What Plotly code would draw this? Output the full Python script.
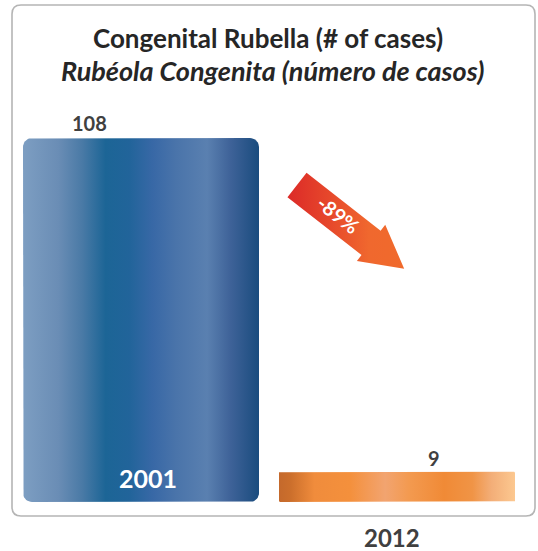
import numpy as np
import plotly.graph_objects as go

# ---- data -------------------------------------------------------------
years = ["2001", "2012"]
cases = [108, 9]
change_label = "-89%"
title_en = "Congenital Rubella (# of cases)"
title_es = "Rubéola Congenita (número de casos)"

# ---- styling ----------------------------------------------------------
W, H = 538, 551
FONT = "Lato"
BAR_W = 236 / 256                      # bar width in category units
X_RANGE = [-0.5508, 1.5508]
Y_RANGE = [-14.54, 148.96]
PX_X = W / (X_RANGE[1] - X_RANGE[0])   # pixels per x unit
PX_Y = H / (Y_RANGE[1] - Y_RANGE[0])   # pixels per y unit

blue_scale = [
    [0.00, "#7d9ec2"], [0.15, "#6a8db5"], [0.25, "#4a7aa6"], [0.35, "#1c6596"],
    [0.45, "#21649a"], [0.55, "#3868a6"], [0.65, "#4a74aa"], [0.78, "#5a80b0"],
    [0.88, "#3e6298"], [1.00, "#1a4c7e"],
]
orange_scale = [
    [0.00, "#c4692c"], [0.05, "#cc6f2c"], [0.15, "#f08c3c"], [0.30, "#f4903c"],
    [0.45, "#f2a470"], [0.55, "#f39a50"], [0.70, "#f08a36"], [0.82, "#f09446"],
    [0.90, "#f3ae78"], [1.00, "#fcc890"],
]
arrow_scale = [[0.0, "#dc2a28"], [0.35, "#e6472b"], [0.7, "#f0682e"], [1.0, "#f06a2c"]]
bar_styles = [(blue_scale, 9), (orange_scale, 1)]


def rounded_rect(x0, x1, y0, y1, r_px):
    """Closed outline of a rectangle (data units) with corners rounded by r_px pixels."""
    rx, ry = r_px / PX_X, r_px / PX_Y
    corners = [(x1 - rx, y1 - ry, 0, 90), (x0 + rx, y1 - ry, 90, 180),
               (x0 + rx, y0 + ry, 180, 270), (x1 - rx, y0 + ry, 270, 360)]
    xs, ys = [], []
    for cx, cy, a0, a1 in corners:
        t = np.radians(np.linspace(a0, a1, 10))
        xs += list(cx + rx * np.cos(t))
        ys += list(cy + ry * np.sin(t))
    xs.append(xs[0])
    ys.append(ys[0])
    return xs, ys


fig = go.Figure()

# bars with horizontal colour gradients
for i, (year, val) in enumerate(zip(years, cases)):
    scale, radius = bar_styles[i]
    xs, ys = rounded_rect(i - BAR_W / 2, i + BAR_W / 2, 0, val, radius)
    fig.add_trace(go.Scatter(
        x=xs, y=ys, mode="lines", fill="toself", line=dict(width=0),
        fillgradient=dict(type="horizontal", colorscale=scale),
        hoverinfo="skip", showlegend=False, name=year,
    ))

# decorative downward arrow (pixel space on overlay axes)
tail = np.array([297.0, 185.0])
ang = np.radians(38)
length, shaft_half, head_half, head_len = 136, 15.5, 23, 42
u = np.array([np.cos(ang), np.sin(ang)])
p = np.array([-np.sin(ang), np.cos(ang)])
neck = tail + u * (length - head_len)
tip = tail + u * length
poly = [tail + p * shaft_half, neck + p * shaft_half, neck + p * head_half, tip,
        neck - p * head_half, neck - p * shaft_half, tail - p * shaft_half,
        tail + p * shaft_half]
fig.add_trace(go.Scatter(
    x=[q[0] for q in poly], y=[q[1] for q in poly], xaxis="x2", yaxis="y2",
    mode="lines", fill="toself", line=dict(width=0),
    fillgradient=dict(type="horizontal", colorscale=arrow_scale),
    hoverinfo="skip", showlegend=False,
))

annotations = [
    dict(text=f"<b>{title_en}</b>", x=268, y=38, xref="x2", yref="y2",
         showarrow=False, font=dict(family=FONT, size=26, color="#262626")),
    dict(text=f"<b><i>{title_es}</i></b>", x=272, y=70, xref="x2", yref="y2",
         showarrow=False, font=dict(family=FONT, size=27, color="#262626")),
    # value labels
    dict(text=f"<b>{cases[0]}</b>", x=0, y=cases[0], xref="x", yref="y",
         xshift=-52, yshift=15, showarrow=False,
         font=dict(family=FONT, size=20, color="#404040")),
    dict(text=f"<b>{cases[1]}</b>", x=1, y=cases[1], xref="x", yref="y",
         xshift=37, yshift=14, showarrow=False,
         font=dict(family=FONT, size=20, color="#404040")),
    # year labels
    dict(text=f"<b>{years[0]}</b>", x=0, y=0, xref="x", yref="y",
         xshift=7, yshift=24, showarrow=False,
         font=dict(family=FONT, size=25, color="white")),
    dict(text=f"<b>{years[1]}</b>", x=1, y=0, xref="x", yref="y",
         xshift=-5, yshift=-35, showarrow=False,
         font=dict(family=FONT, size=24, color="#404040")),
    # change label on arrow
    dict(text=f"<b>{change_label}</b>", x=338, y=214, xref="x2", yref="y2",
         textangle=38, showarrow=False,
         font=dict(family=FONT, size=20, color="white")),
]

# rounded frame around the chart
bx0, bx1, by0, by1, r = 12, 535, 5, 516, 9
frame = (f"M {bx0+r},{by0} L {bx1-r},{by0} Q {bx1},{by0} {bx1},{by0+r} "
         f"L {bx1},{by1-r} Q {bx1},{by1} {bx1-r},{by1} L {bx0+r},{by1} "
         f"Q {bx0},{by1} {bx0},{by1-r} L {bx0},{by0+r} Q {bx0},{by0} {bx0+r},{by0} Z")

fig.update_layout(
    width=W, height=H, margin=dict(l=0, r=0, t=0, b=0),
    paper_bgcolor="white", plot_bgcolor="white", showlegend=False,
    xaxis=dict(range=X_RANGE, visible=False, fixedrange=True),
    yaxis=dict(range=Y_RANGE, visible=False, fixedrange=True),
    xaxis2=dict(range=[0, W], overlaying="x", visible=False, fixedrange=True),
    yaxis2=dict(range=[H, 0], overlaying="y", visible=False, fixedrange=True),
    shapes=[dict(type="path", path=frame, xref="x2", yref="y2", layer="below",
                 line=dict(color="#b5b5b5", width=1.6))],
    annotations=annotations,
)

fig.write_html("out.html", config={"displayModeBar": False})
